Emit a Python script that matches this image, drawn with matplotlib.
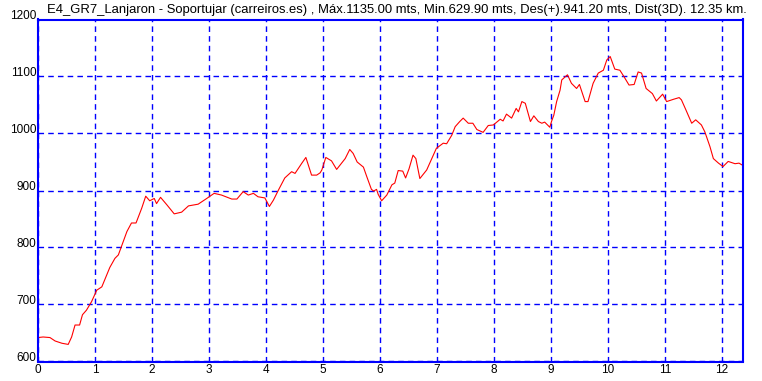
import matplotlib
matplotlib.use("Agg")
import matplotlib.pyplot as plt

# distance (km) and elevation (m)
km = [0.00, 0.09, 0.21, 0.30, 0.42, 0.53, 0.59, 0.65, 0.73, 0.78, 0.85, 0.94,
      1.03, 1.12, 1.26, 1.35, 1.41, 1.56, 1.64, 1.72, 1.82, 1.89, 1.96, 2.04,
      2.08, 2.15, 2.26, 2.39, 2.52, 2.64, 2.81, 2.96, 3.09, 3.22, 3.40, 3.49,
      3.60, 3.69, 3.78, 3.86, 3.98, 4.06, 4.13, 4.22, 4.33, 4.45, 4.51, 4.63,
      4.70, 4.80, 4.89, 4.95, 4.98, 5.05, 5.15, 5.24, 5.31, 5.39, 5.47, 5.53,
      5.60, 5.71, 5.77, 5.85, 5.89, 5.94, 5.97, 6.03, 6.12, 6.21, 6.26, 6.32,
      6.40, 6.45, 6.51, 6.58, 6.63, 6.70, 6.82, 6.91, 6.99, 7.11, 7.17, 7.26,
      7.32, 7.40, 7.46, 7.55, 7.63, 7.70, 7.81, 7.90, 7.99, 8.11, 8.16, 8.22,
      8.31, 8.39, 8.43, 8.49, 8.55, 8.60, 8.64, 8.70, 8.78, 8.84, 8.89, 8.98,
      9.01, 9.05, 9.10, 9.16, 9.19, 9.29, 9.36, 9.45, 9.50, 9.60, 9.65, 9.74,
      9.83, 9.92, 9.98, 10.04, 10.12, 10.21, 10.28, 10.37, 10.46, 10.53, 10.59,
      10.67, 10.78, 10.85, 10.96, 11.03, 11.15, 11.25, 11.29, 11.37, 11.47,
      11.54, 11.64, 11.70, 11.79, 11.85, 11.94, 12.02, 12.11, 12.23, 12.30, 12.35]
elev = [642, 643, 642, 636, 632, 630, 643, 664, 664, 682, 690, 705,
        725, 731, 765, 781, 787, 828, 843, 843, 869, 890, 882, 886,
        877, 888, 875, 859, 862, 873, 876, 886, 895, 892, 885, 885,
        898, 892, 895, 889, 887, 872, 883, 901, 922, 933, 930, 948,
        958, 927, 927, 931, 936, 958, 952, 937, 946, 956, 972, 965,
        950, 941, 924, 902, 899, 902, 893, 882, 892, 910, 913, 935,
        934, 922, 938, 962, 956, 921, 936, 956, 974, 983, 982, 997,
        1012, 1021, 1027, 1018, 1018, 1007, 1002, 1014, 1015, 1025, 1022, 1034,
        1027, 1044, 1038, 1056, 1053, 1035, 1021, 1031, 1021, 1018, 1020, 1011,
        1021, 1032, 1056, 1076, 1094, 1103, 1088, 1079, 1086, 1056, 1056, 1088,
        1106, 1111, 1129, 1135, 1113, 1111, 1100, 1085, 1086, 1108, 1106,
        1079, 1070, 1057, 1069, 1056, 1060, 1063, 1059, 1041, 1018,
        1024, 1015, 1003, 977, 956, 948, 942, 951, 947, 948, 945]

x_ticks = list(range(0, 13))
y_ticks = [600, 700, 800, 900, 1000, 1100, 1200]

title = ("E4_GR7_Lanjaron - Soportujar (carreiros.es) , Máx.1135.00 mts, "
         "Min.629.90 mts, Des(+).941.20 mts, Dist(3D). 12.35 km.")

plt.rcParams['font.family'] = ['Liberation Sans', 'DejaVu Sans']

fig = plt.figure(figsize=(7.62, 3.81), dpi=100)
ax = fig.add_axes([38 / 762, 1 - 361.5 / 381, 705 / 762, 342 / 381])

ax.plot(km, elev, color="red", linewidth=0.8)

ax.set_xlim(0, 12.37)
ax.set_ylim(600, 1200)
ax.set_xticks(x_ticks)
ax.set_yticks(y_ticks)
ax.grid(True, color="blue", linestyle=(0, (4, 3)), linewidth=1.0)

for s in ax.spines.values():
    s.set_color("blue")
    s.set_linewidth(1.5)

ax.tick_params(length=0, labelsize=8.5, colors="black")
ax.tick_params(axis="x", pad=2)
ax.set_yticklabels([])
for v in y_ticks:
    ax.text(-0.002, v, str(v), transform=ax.get_yaxis_transform(),
            ha="right", va="baseline", fontsize=8.5)

fig.text(47 / 762, 1 - 10 / 381, title, ha="left", va="center", fontsize=9.35)

fig.savefig("out.png", dpi=100)
